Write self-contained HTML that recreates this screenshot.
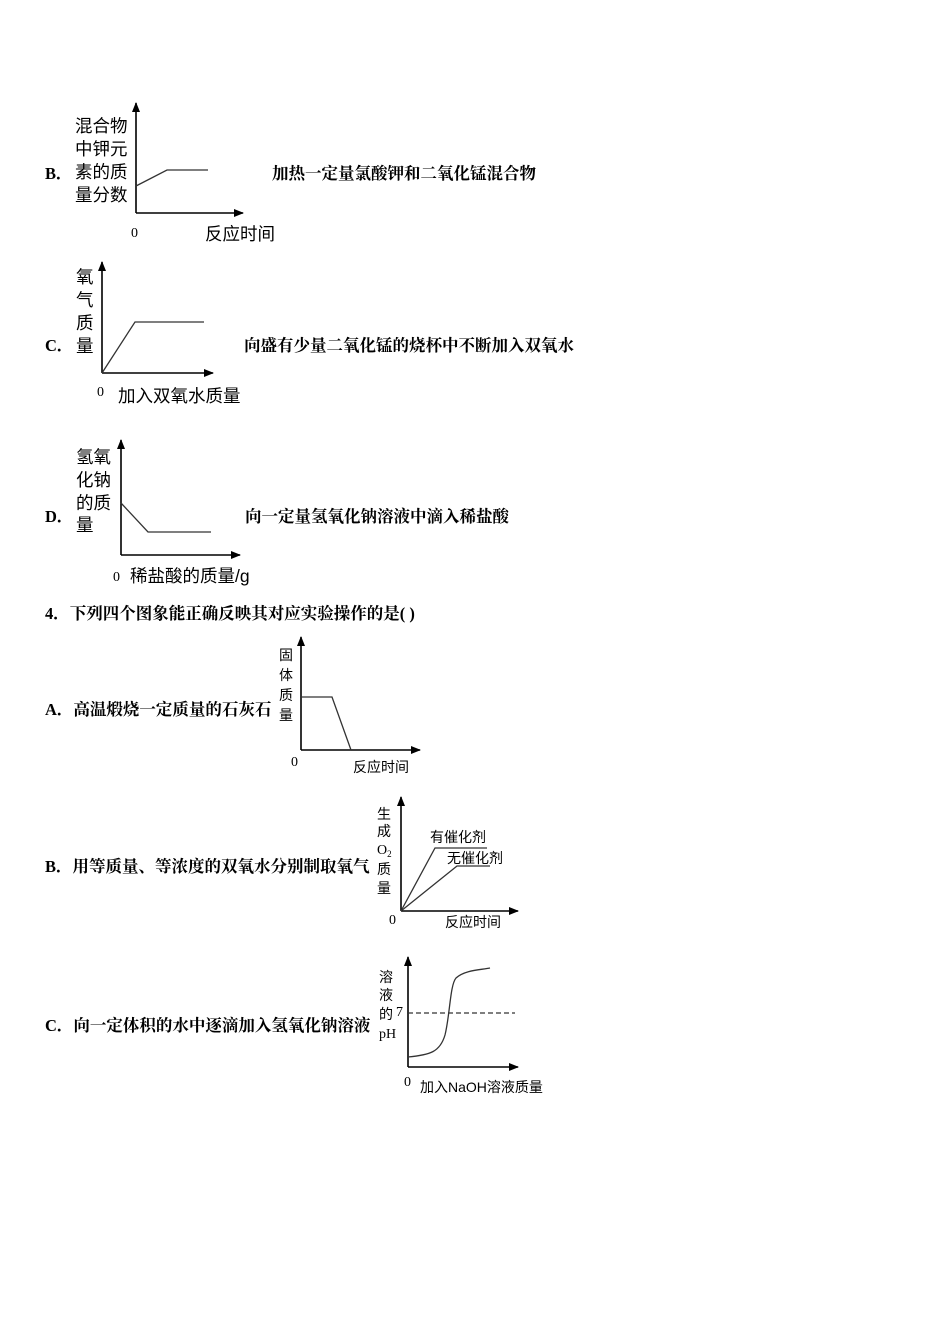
<!DOCTYPE html>
<html><head><meta charset="utf-8"><style>
html,body{margin:0;padding:0;background:#fff;width:950px;height:1344px;overflow:hidden}
svg text{font-family:"Liberation Sans","Noto Sans CJK SC",sans-serif;fill:#000}
.b{font-family:"Liberation Serif","Noto Serif CJK SC","Noto Sans CJK SC",serif;font-weight:bold;font-size:16.5px}
.l{font-size:17.5px}
.s{font-size:14px}
.z{font-family:"Liberation Serif",serif;font-size:14px}
</style></head><body>
<svg width="950" height="1344" xmlns="http://www.w3.org/2000/svg">
<defs><marker id="a" markerWidth="10" markerHeight="8" refX="9" refY="4" orient="auto" markerUnits="userSpaceOnUse"><path d="M0,0 L10,4 L0,8z" fill="#000"/></marker></defs>
<g stroke="#000" stroke-width="1.6" fill="none">
<path d="M136,213 V103" marker-end="url(#a)"/><path d="M136,213 H243" marker-end="url(#a)"/>
<path d="M102,373 V262" marker-end="url(#a)"/><path d="M102,373 H213" marker-end="url(#a)"/>
<path d="M121,555 V440" marker-end="url(#a)"/><path d="M121,555 H240" marker-end="url(#a)"/>
<path d="M301,750 V637" marker-end="url(#a)"/><path d="M301,750 H420" marker-end="url(#a)"/>
<path d="M401,911 V797" marker-end="url(#a)"/><path d="M401,911 H518" marker-end="url(#a)"/>
<path d="M408,1067 V957" marker-end="url(#a)"/><path d="M408,1067 H518" marker-end="url(#a)"/>
</g>
<g stroke="#333" stroke-width="1.3" fill="none">
<path d="M136,186 L167,170 H208"/>
<path d="M102,373 L135,322 H204"/>
<path d="M121,503 L148,532 H211"/>
<path d="M301,697 H332 L351,750"/>
<path d="M401,911 L435,848 H487"/>
<path d="M401,911 L457,866 H490"/>
<path d="M408,1057 C430,1055 440,1052 445,1035 C450,1015 450,985 456,978 C465,970 480,970 490,968"/>
<path d="M408,1013 H515" stroke-dasharray="5,3"/>
</g>
<text class="b" x="45" y="179">B．</text>
<text class="l" x="75" y="132">混合物</text><text class="l" x="75" y="155">中钾元</text><text class="l" x="75" y="178">素的质</text><text class="l" x="75" y="201">量分数</text>
<text class="z" x="131" y="237">0</text><text class="l" x="205" y="240">反应时间</text>
<text class="b" x="272" y="179">加热一定量氯酸钾和二氧化锰混合物</text>
<text class="b" x="45" y="351">C．</text>
<text class="l" x="76" y="283">氧</text><text class="l" x="76" y="306">气</text><text class="l" x="76" y="329">质</text><text class="l" x="76" y="352">量</text>
<text class="z" x="97" y="396">0</text><text class="l" x="118" y="402">加入双氧水质量</text>
<text class="b" x="244" y="351">向盛有少量二氧化锰的烧杯中不断加入双氧水</text>
<text class="b" x="45" y="522">D．</text>
<text class="l" x="76" y="463">氢氧</text><text class="l" x="76" y="486">化钠</text><text class="l" x="76" y="509">的质</text><text class="l" x="76" y="531">量</text>
<text class="z" x="113" y="581">0</text><text class="l" x="130" y="582">稀盐酸的质量/g</text>
<text class="b" x="45" y="619">4．下列四个图象能正确反映其对应实验操作的是( )</text>
<text class="b" x="245" y="522">向一定量氢氧化钠溶液中滴入稀盐酸</text>
<text class="b" x="45" y="715">A．高温煅烧一定质量的石灰石</text>
<text class="s" x="279" y="660">固</text><text class="s" x="279" y="680">体</text><text class="s" x="279" y="700">质</text><text class="s" x="279" y="720">量</text>
<text class="z" x="291" y="766">0</text><text class="s" x="353" y="772">反应时间</text>
<text class="b" x="45" y="872">B．用等质量、等浓度的双氧水分别制取氧气</text>
<text class="s" x="377" y="819">生</text><text class="s" x="377" y="836">成</text><text class="z" x="377" y="854">O<tspan font-size="9" dy="3">2</tspan></text><text class="s" x="377" y="874">质</text><text class="s" x="377" y="893">量</text>
<text class="s" x="430" y="842">有催化剂</text><text class="s" x="447" y="863">无催化剂</text>
<text class="z" x="389" y="924">0</text><text class="s" x="445" y="927">反应时间</text>
<text class="b" x="45" y="1031">C．向一定体积的水中逐滴加入氢氧化钠溶液</text>
<text class="s" x="379" y="982">溶</text><text class="s" x="379" y="1000">液</text><text class="s" x="379" y="1019">的</text><text class="z" x="379" y="1038">pH</text>
<text class="z" x="396" y="1016">7</text>
<text class="z" x="404" y="1086">0</text><text class="s" x="420" y="1092">加入NaOH溶液质量</text>
</svg>
</body></html>
